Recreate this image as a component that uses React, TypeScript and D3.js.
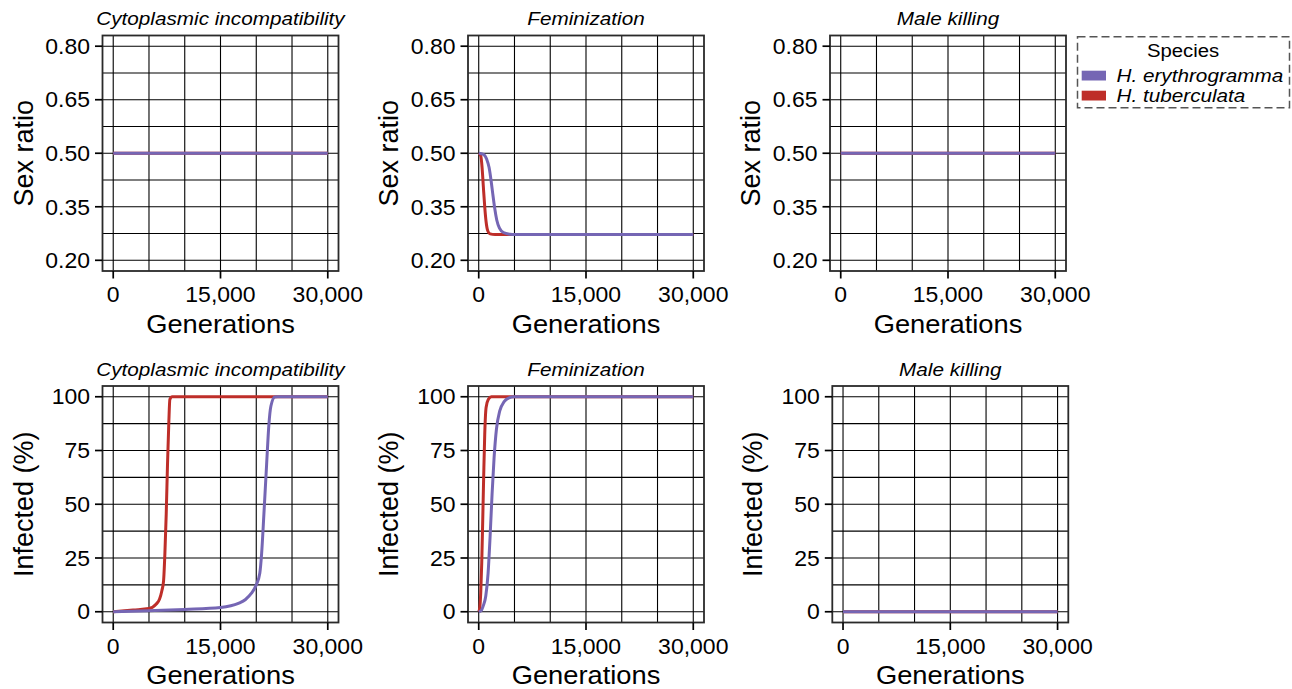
import React, { useEffect, useRef } from 'react';
import * as d3 from 'd3';

type Pt = [number, number];

const mechanisms = ['Cytoplasmic incompatibility', 'Feminization', 'Male killing'];
const speciesNames = ['H. erythrogramma', 'H. tuberculata'];
const speciesColors = ['#7566b4', '#be2e29'];

const generationTicks = [0, 15000, 30000];
const generationGrid = [0, 5000, 10000, 15000, 20000, 25000, 30000];
const sexRatioTicks = [0.2, 0.35, 0.5, 0.65, 0.8];
const sexRatioGrid = [0.2, 0.275, 0.35, 0.425, 0.5, 0.575, 0.65, 0.725, 0.8];
const infectedTicks = [0, 25, 50, 75, 100];
const infectedGrid = [0, 12.5, 25, 37.5, 50, 62.5, 75, 87.5, 100];

// sex ratio, per mechanism: [erythrogramma, tuberculata]
const ciSexEry: Pt[] = [[0, 0.5], [30000, 0.5]];
const ciSexTub: Pt[] = [[0, 0.5], [30000, 0.5]];
const femSexEry: Pt[] = [
  [0, 0.5], [650, 0.497], [1120, 0.483], [1450, 0.46], [1730, 0.423], [1960, 0.387],
  [2240, 0.345], [2520, 0.313], [2900, 0.29], [3450, 0.278], [4390, 0.273], [5000, 0.272], [30000, 0.272],
];
const femSexTub: Pt[] = [
  [0, 0.5], [280, 0.493], [470, 0.46], [650, 0.405], [840, 0.35], [1030, 0.308],
  [1260, 0.283], [1590, 0.274], [2290, 0.272], [30000, 0.272],
];
const mkSexEry: Pt[] = [[0, 0.5], [30000, 0.5]];
const mkSexTub: Pt[] = [[0, 0.5], [30000, 0.5]];

// infected (%)
const ciInfEry: Pt[] = [
  [0, 0], [5000, 0.5], [10000, 1.1], [15000, 2], [17500, 3.9], [18500, 5.7], [19300, 8.5],
  [20000, 12.5], [20500, 18], [20750, 27], [21070, 45.5], [21450, 68.7], [21770, 87.2],
  [22050, 95.7], [22600, 99.9], [23000, 100], [30000, 100],
];
const ciInfTub: Pt[] = [
  [0, 0], [2780, 0.8], [5000, 1.5], [6020, 3.6], [6480, 5.9], [6800, 9.8], [7040, 14.4],
  [7220, 26.8], [7410, 45.4], [7590, 68.6], [7780, 88.7], [7920, 98.8], [8240, 100], [30000, 100],
];
const femInfEry: Pt[] = [
  [0, 0], [280, 0.3], [610, 2.6], [980, 7.2], [1310, 18], [1590, 35], [1870, 55], [2150, 71.8],
  [2480, 85], [2940, 93.4], [3550, 97.7], [4250, 99.5], [4950, 100], [30000, 100],
];
const femInfTub: Pt[] = [
  [0, 0], [140, 1.8], [280, 8.8], [420, 22.6], [560, 42.6], [700, 64], [840, 82.6],
  [1030, 95], [1350, 98.8], [1770, 100], [30000, 100],
];
const mkInfEry: Pt[] = [[0, 0], [30000, 0]];
const mkInfTub: Pt[] = [[0, 0], [30000, 0]];

const sexRatioSeries = [[ciSexEry, ciSexTub], [femSexEry, femSexTub], [mkSexEry, mkSexTub]];
const infectedSeries = [[ciInfEry, ciInfTub], [femInfEry, femInfTub], [mkInfEry, mkInfTub]];

const FONT = "'Liberation Sans', Arial, Helvetica, sans-serif";

const App: React.FC = () => {
  const ref = useRef<SVGSVGElement | null>(null);

  useEffect(() => {
    const svg = d3.select(ref.current);
    svg.selectAll('*').remove();

    const addText = (
      g: d3.Selection<any, unknown, null, undefined>,
      x: number, y: number, str: string,
      size: number, sx: number, anchor: string, italic = false, dy = '0'
    ) => {
      g.append('text')
        .attr('transform', `translate(${x},${y}) scale(${sx},1)`)
        .attr('text-anchor', anchor)
        .attr('dy', dy)
        .style('font-family', FONT)
        .style('font-size', `${size}px`)
        .style('font-style', italic ? 'italic' : 'normal')
        .attr('fill', '#000')
        .text(str);
    };

    const rows = [
      { top: 35.5, bottom: 271, lefts: [102.5, 468, 830], ticks: sexRatioTicks, grid: sexRatioGrid,
        dom: [0.17, 0.83], fmt: (d: number) => d.toFixed(2), title: 'Sex ratio', series: sexRatioSeries },
      { top: 386, bottom: 622.5, lefts: [102.5, 468, 832.3], ticks: infectedTicks, grid: infectedGrid,
        dom: [-5, 105], fmt: (d: number) => `${d}`, title: 'Infected (%)', series: infectedSeries },
    ];
    const panelW = 236;

    rows.forEach(row => {
      row.lefts.forEach((left, ci) => {
        const right = left + panelW;
        const x = d3.scaleLinear().domain([-1500, 31500]).range([left, right]);
        const y = d3.scaleLinear().domain(row.dom).range([row.bottom, row.top]);
        const g = svg.append('g');

        // grid
        g.selectAll('.vg').data(generationGrid).enter().append('line')
          .attr('x1', d => x(d)).attr('x2', d => x(d))
          .attr('y1', row.top).attr('y2', row.bottom)
          .attr('stroke', '#000').attr('stroke-width', 1.1);
        g.selectAll('.hg').data(row.grid).enter().append('line')
          .attr('x1', left).attr('x2', right)
          .attr('y1', d => y(d)).attr('y2', d => y(d))
          .attr('stroke', '#000').attr('stroke-width', 1.1);

        // lines: tuberculata first, erythrogramma on top
        const line = d3.line<Pt>().x(d => x(d[0])).y(d => y(d[1])).curve(d3.curveMonotoneX);
        [1, 0].forEach(si => {
          g.append('path')
            .attr('d', line(row.series[ci][si]) || '')
            .attr('fill', 'none')
            .attr('stroke', speciesColors[si])
            .attr('stroke-width', 3)
            .attr('stroke-linejoin', 'round');
        });

        // border
        g.append('rect')
          .attr('x', left).attr('y', row.top)
          .attr('width', panelW).attr('height', row.bottom - row.top)
          .attr('fill', 'none').attr('stroke', '#2a2a2a').attr('stroke-width', 1.8);

        // y axis
        row.ticks.forEach(t => {
          g.append('line').attr('x1', left - 7.5).attr('x2', left)
            .attr('y1', y(t)).attr('y2', y(t)).attr('stroke', '#000').attr('stroke-width', 1.7);
          addText(g, left - 12.5, y(t), row.fmt(t), 21.5, 1.07, 'end', false, '0.36em');
        });
        // x axis
        generationTicks.forEach(t => {
          g.append('line').attr('x1', x(t)).attr('x2', x(t))
            .attr('y1', row.bottom).attr('y2', row.bottom + 7.5).attr('stroke', '#000').attr('stroke-width', 1.7);
          addText(g, x(t), row.bottom + 31, d3.format(',')(t), 21.5, 1.07, 'middle');
        });

        addText(g, (left + right) / 2, row.bottom + 61.5, 'Generations', 26.5, 1.03, 'middle');
        g.append('text')
          .attr('transform', `translate(${left - 70},${(row.top + row.bottom) / 2}) rotate(-90)`)
          .attr('text-anchor', 'middle')
          .style('font-family', FONT)
          .style('font-size', '27px')
          .attr('fill', '#000')
          .text(row.title);
        addText(g, (left + right) / 2, row.top - 10.5, mechanisms[ci], 19, 1.09, 'middle', true);
      });
    });

    // legend
    const lg = svg.append('g');
    lg.append('rect')
      .attr('x', 1077.5).attr('y', 36.7).attr('width', 212).attr('height', 71)
      .attr('fill', 'white').attr('stroke', '#555').attr('stroke-width', 1.5)
      .attr('stroke-dasharray', '8,4');
    addText(lg, 1183, 57, 'Species', 17.5, 1.16, 'middle');
    speciesNames.forEach((name, i) => {
      lg.append('rect')
        .attr('x', 1081.7).attr('y', 70.7 + i * 20)
        .attr('width', 24.3).attr('height', 9.8)
        .attr('fill', speciesColors[i]);
      addText(lg, 1116.5, 81.5 + i * 20, name, 18.5, 1.12, 'start', true);
    });
  }, []);

  return (
    <svg ref={ref} width={1292} height={689}
      style={{ position: 'absolute', left: 0, top: 0, background: 'white' }} />
  );
};

export default App;
